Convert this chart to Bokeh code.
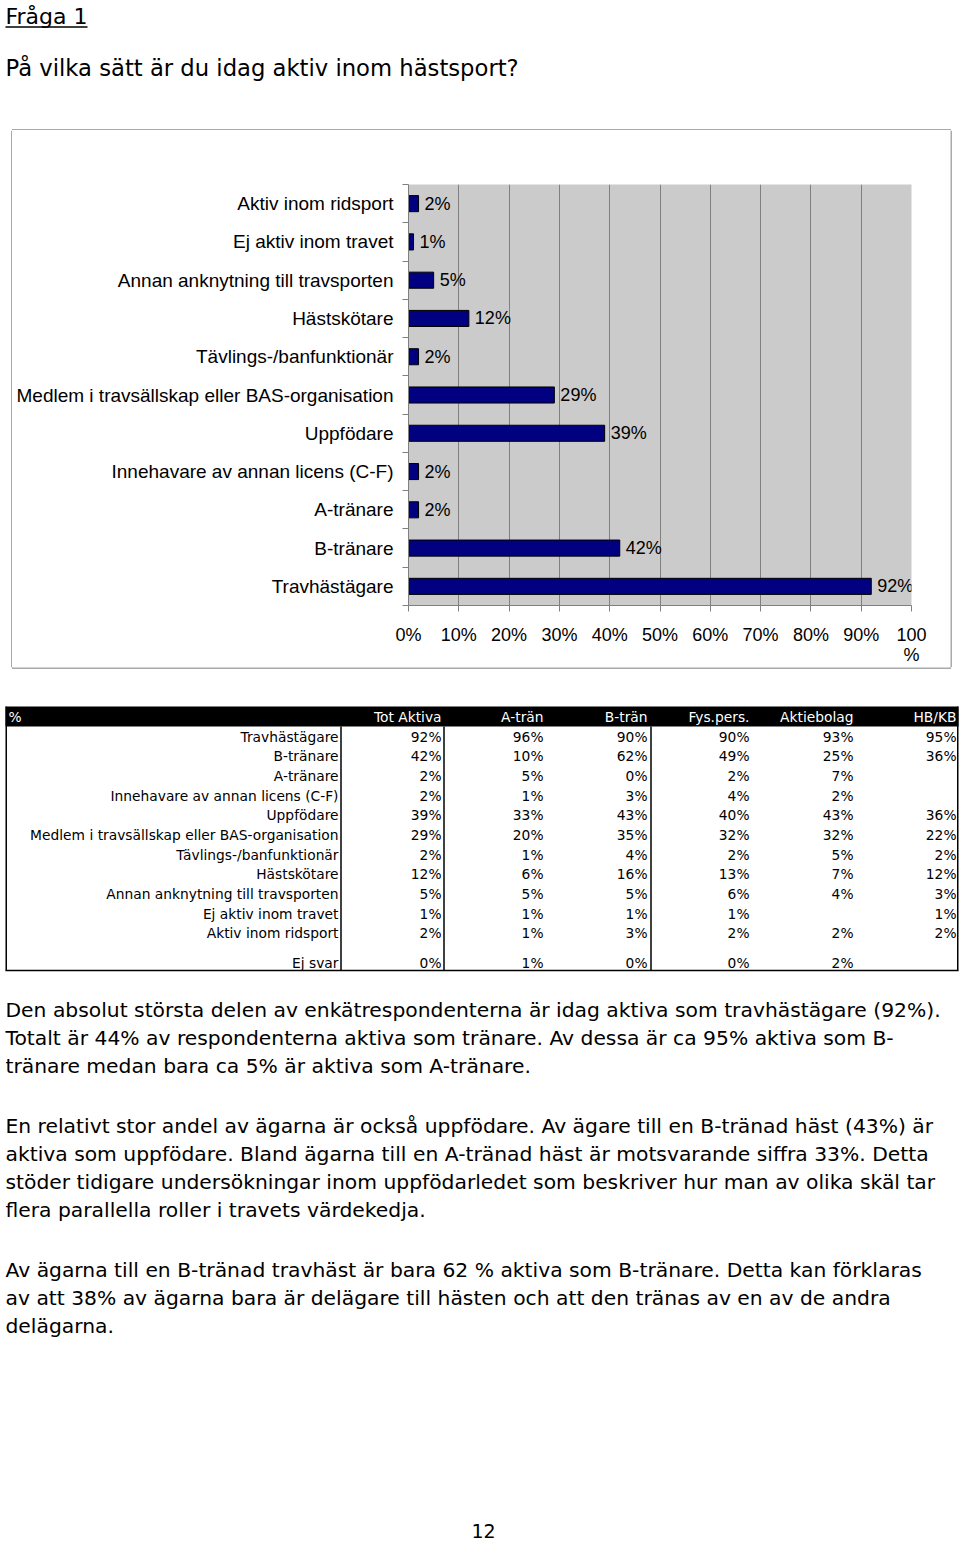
from bokeh.plotting import figure
from bokeh.models import Range1d, FixedTicker, ColumnDataSource
from bokeh.layouts import column, row
from bokeh.embed import file_html
from bokeh.resources import INLINE
from bokeh.core.properties import value

# ---------------- data ----------------
title_text = "Fråga 1"
question_text = "På vilka sätt är du idag aktiv inom hästsport?"

categories = [
    "Travhästägare",
    "B-tränare",
    "A-tränare",
    "Innehavare av annan licens (C-F)",
    "Uppfödare",
    "Medlem i travsällskap eller BAS-organisation",
    "Tävlings-/banfunktionär",
    "Hästskötare",
    "Annan anknytning till travsporten",
    "Ej aktiv inom travet",
    "Aktiv inom ridsport",
]
tot_aktiva = [92, 42, 2, 2, 39, 29, 2, 12, 5, 1, 2]

x_ticks = [0, 10, 20, 30, 40, 50, 60, 70, 80, 90, 100]
x_tick_labels = ["0%", "10%", "20%", "30%", "40%", "50%", "60%", "70%", "80%", "90%", "100\n%"]

table_header = ["%", "Tot Aktiva", "A-trän", "B-trän", "Fys.pers.", "Aktiebolag", "HB/KB"]
table_rows = categories + ["Ej svar"]
col_tot = tot_aktiva + [0]
col_a_tran = [96, 10, 5, 1, 33, 20, 1, 6, 5, 1, 1, 1]
col_b_tran = [90, 62, 0, 3, 43, 35, 4, 16, 5, 1, 3, 0]
col_fys = [90, 49, 2, 4, 40, 32, 2, 13, 6, 1, 2, 0]
col_ab = [93, 25, 7, 2, 43, 32, 5, 7, 4, None, 2, 2]
col_hbkb = [95, 36, None, None, 36, 22, 2, 12, 3, 1, 2, None]

paragraph_lines = [
    "Den absolut största delen av enkätrespondenterna är idag aktiva som travhästägare (92%).",
    "Totalt är 44% av respondenterna aktiva som tränare. Av dessa är ca 95% aktiva som B-",
    "tränare medan bara ca 5% är aktiva som A-tränare.",
    "En relativt stor andel av ägarna är också uppfödare. Av ägare till en B-tränad häst (43%) är",
    "aktiva som uppfödare. Bland ägarna till en A-tränad häst är motsvarande siffra 33%. Detta",
    "stöder tidigare undersökningar inom uppfödarledet som beskriver hur man av olika skäl tar",
    "flera parallella roller i travets värdekedja.",
    "Av ägarna till en B-tränad travhäst är bara 62 % aktiva som B-tränare. Detta kan förklaras",
    "av att 38% av ägarna bara är delägare till hästen och att den tränas av en av de andra",
    "delägarna.",
]
page_number = "12"

# ---------------- styling / layout ----------------
PAGE_FONT = "DejaVu Sans"
CHART_FONT = "Liberation Sans"
W = 960
BOX_COLOR = "#8c8c8c"
BOX_L, BOX_R, BOX_T, BOX_B = 11.5, 950.5, 129.5, 667.5


def page_fig(x0, x1, y0, y1):
    f = figure(width=x1 - x0, height=y1 - y0, x_range=Range1d(x0, x1), y_range=Range1d(y1, y0),
               toolbar_location=None, output_backend="svg", min_border=0,
               x_axis_location=None, y_axis_location=None, outline_line_color=None,
               background_fill_color="white", border_fill_color="white", frame_align=False)
    f.grid.visible = False
    return f


# ---- top text ----
top = page_fig(0, W, 0, 130)
top.text(x=[5], y=[16], text=[title_text], text_font=value(PAGE_FONT), text_font_size="22px",
         text_align="left", text_baseline="middle", text_color="black")
top.segment(x0=[5], y0=[26.5], x1=[87], y1=[26.5], line_color="black", line_width=1.5)
top.text(x=[5], y=[67], text=[question_text], text_font=value(PAGE_FONT), text_font_size="22.7px",
         text_align="left", text_baseline="middle", text_color="black")
top.segment(x0=[BOX_L], y0=[BOX_T], x1=[BOX_R], y1=[BOX_T], line_color=BOX_COLOR, line_width=1.5)

# ---- side strips of the chart-area border ----
left_strip = page_fig(0, 12, 130, 667)
left_strip.segment(x0=[BOX_L], y0=[130], x1=[BOX_L], y1=[667], line_color=BOX_COLOR, line_width=1.5)
right_strip = page_fig(950, W, 130, 667)
right_strip.segment(x0=[BOX_R], y0=[130], x1=[BOX_R], y1=[667], line_color=BOX_COLOR, line_width=1.5)

# ---- chart ----
CH_W, CH_H = 938, 537
ypos = list(range(1, len(categories) + 1))
chart = figure(width=CH_W, height=CH_H, x_range=Range1d(0, 100), y_range=Range1d(0.5, len(categories) + 0.5),
               toolbar_location=None, output_backend="svg",
               min_border_left=396, min_border_right=39, min_border_top=54, min_border_bottom=58,
               background_fill_color="#cbcbcb", border_fill_color="white", outline_line_color=None,
               frame_align=False)

src = ColumnDataSource(dict(y=ypos, v=tot_aktiva, lab=[f"{v}%" for v in tot_aktiva]))
chart.hbar(y="y", left=0, right="v", height=0.42, fill_color="#000080", line_color="black",
           line_width=1, source=src)
chart.text(x="v", y="y", text="lab", x_offset=6, text_align="left", text_baseline="middle",
           text_font=value(CHART_FONT), text_font_size="18px", text_color="black", source=src)

xa = chart.xaxis[0]
xa.ticker = FixedTicker(ticks=x_ticks)
xa.major_label_overrides = dict(zip(x_ticks, x_tick_labels))
xa.major_tick_out = 6
xa.major_tick_in = 0
xa.minor_tick_out = 0
xa.minor_tick_in = 0
xa.axis_line_color = "#808080"
xa.major_tick_line_color = "#808080"
xa.major_label_text_font = CHART_FONT
xa.major_label_text_font_size = "18px"
xa.major_label_text_line_height = 1.0
xa.major_label_text_color = "black"
xa.major_label_standoff = 13

chart.xgrid.ticker = FixedTicker(ticks=x_ticks)
chart.xgrid.grid_line_color = "#808080"
chart.ygrid.visible = False

ya = chart.yaxis[0]
ya.ticker = FixedTicker(ticks=ypos, minor_ticks=[y - 0.5 for y in ypos] + [len(ypos) + 0.5])
ya.major_label_overrides = dict(zip(ypos, categories))
ya.major_tick_out = 0
ya.major_tick_in = 0
ya.minor_tick_out = 6
ya.minor_tick_in = 0
ya.minor_tick_line_color = "#808080"
ya.axis_line_color = "#808080"
ya.major_label_text_font = CHART_FONT
ya.major_label_text_font_size = "19px"
ya.major_label_text_color = "black"
ya.major_label_standoff = 9

# ---- table + text ----
bot = page_fig(0, W, 667, 1547)
bot.segment(x0=[BOX_L], y0=[BOX_B], x1=[BOX_R], y1=[BOX_B], line_color=BOX_COLOR, line_width=1.5)
bot.segment(x0=[BOX_L, BOX_R], y0=[667, 667], x1=[BOX_L, BOX_R], y1=[BOX_B, BOX_B],
            line_color=BOX_COLOR, line_width=1.5)

TABLE_SIZE = "13.8px"
col_right = [441, 543, 647, 749, 853, 956]
row_y = [736 + i * 19.67 for i in range(len(categories))] + [962]

bot.quad(left=[5], right=[958], top=[706], bottom=[726], fill_color="black", line_color=None)
bot.text(x=[8], y=[716.5], text=[table_header[0]], text_font=value(PAGE_FONT), text_font_size=TABLE_SIZE,
         text_align="left", text_baseline="middle", text_color="white")
bot.text(x=col_right, y=[716.5] * len(col_right), text=table_header[1:], text_font=value(PAGE_FONT),
         text_font_size=TABLE_SIZE, text_align="right", text_baseline="middle", text_color="white")

bot.text(x=[338] * len(table_rows), y=row_y, text=table_rows, text_font=value(PAGE_FONT),
         text_font_size=TABLE_SIZE, text_align="right", text_baseline="middle", text_color="black")
for xr, col in zip(col_right, [col_tot, col_a_tran, col_b_tran, col_fys, col_ab, col_hbkb]):
    labels = [f"{v}%" if v is not None else "" for v in col]
    bot.text(x=[xr] * len(labels), y=row_y, text=labels, text_font=value(PAGE_FONT),
             text_font_size=TABLE_SIZE, text_align="right", text_baseline="middle", text_color="black")

# table lines
bot.segment(x0=[340.5, 443.5, 650.5], y0=[726] * 3, x1=[340.5, 443.5, 650.5], y1=[970] * 3,
            line_color="black", line_width=1.5)
bot.segment(x0=[5.75, 957.25, 5], y0=[706, 706, 970], x1=[5.75, 957.25, 958], y1=[970, 970, 970],
            line_color="black", line_width=1.5)

# paragraphs (y = vertical centre of each line)
para_y = [1009, 1037, 1065, 1125, 1153, 1181, 1209, 1269, 1297, 1325]
bot.text(x=[5] * len(paragraph_lines), y=para_y, text=paragraph_lines, text_font=value(PAGE_FONT),
         text_font_size="20.3px", text_align="left", text_baseline="middle", text_color="black")
bot.text(x=[483], y=[1530], text=[page_number], text_font=value(PAGE_FONT), text_font_size="19px",
         text_align="center", text_baseline="middle", text_color="black")

layout = column(top, row(left_strip, chart, right_strip, spacing=0), bot, spacing=0)
open("out.html", "w").write(file_html(layout, INLINE))
